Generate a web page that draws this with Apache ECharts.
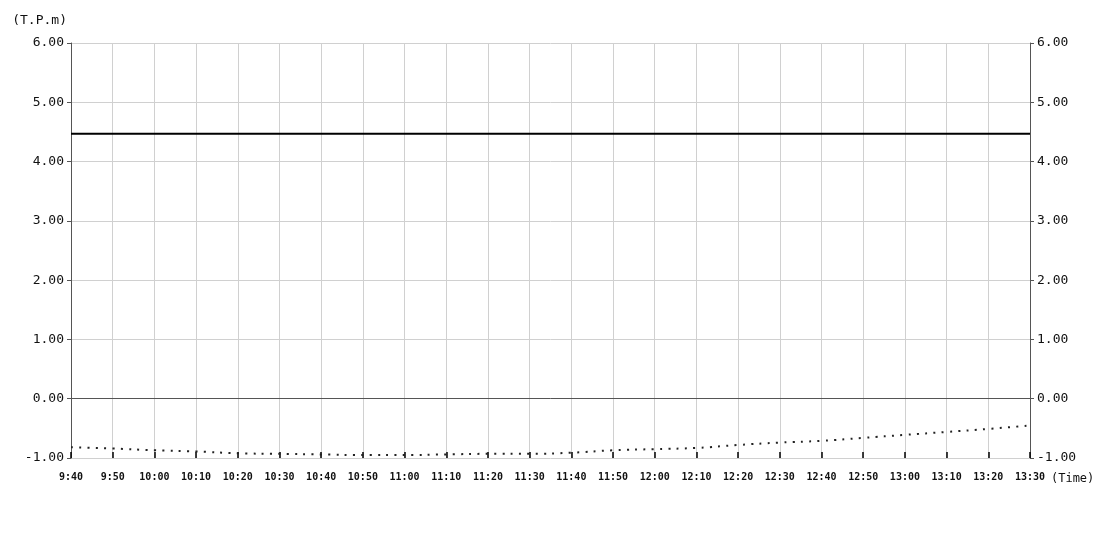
<!DOCTYPE html>
<html>
<head>
<meta charset="utf-8">
<title>T.P.m</title>
<script src="https://cdn.jsdelivr.net/npm/echarts@6/dist/echarts.min.js"></script>
<style>
    html, body { margin: 0; padding: 0; background: #fff; }
    #chart { width: 1100px; height: 550px; }
</style>
</head>
<body>
<div id="chart"></div>
<script>
// time labels, every 10 minutes
var times = ['9:40', '9:50', '10:00', '10:10', '10:20', '10:30', '10:40', '10:50',
    '11:00', '11:10', '11:20', '11:30', '11:40', '11:50', '12:00', '12:10',
    '12:20', '12:30', '12:40', '12:50', '13:00', '13:10', '13:20', '13:30'];

// solid line (constant level)
var levelValues = [4.47, 4.47, 4.47, 4.47, 4.47, 4.47, 4.47, 4.47,
    4.47, 4.47, 4.47, 4.47, 4.47, 4.47, 4.47, 4.47,
    4.47, 4.47, 4.47, 4.47, 4.47, 4.47, 4.47, 4.47];

// dotted line
var dotValues = [-0.82, -0.84, -0.87, -0.89, -0.92, -0.93, -0.94, -0.95,
    -0.95, -0.94, -0.93, -0.93, -0.91, -0.87, -0.85, -0.83,
    -0.78, -0.74, -0.71, -0.66, -0.61, -0.56, -0.51, -0.45];

var font = 'DejaVu Sans Mono';

var myChart = echarts.init(document.getElementById('chart'));

function yAxisOpt(pos) {
    return {
        type: 'value',
        position: pos,
        min: -1,
        max: 6,
        interval: 1,
        axisLine: { show: true, lineStyle: { color: '#555', width: 1 } },
        axisTick: { show: true, length: 4, lineStyle: { color: '#555' } },
        axisLabel: {
            margin: 7,
            color: '#111',
            fontFamily: font,
            fontSize: 13,
            formatter: function (v) { return v.toFixed(2); }
        },
        splitLine: { show: pos == 'left', lineStyle: { color: '#d0d0d0' } }
    };
}

var left = yAxisOpt('left');
left.name = '(T.P.m)';
left.nameLocation = 'end';
left.nameGap = 16;
left.nameTextStyle = { color: '#111', fontFamily: font, fontSize: 13, align: 'right', padding: [0, 4, 0, 0] };

option = {
    animation: false,
    grid: { left: 71, right: 70, top: 43, bottom: 92 },
    xAxis: {
        type: 'category',
        data: times,
        boundaryGap: false,
        name: '(Time)',
        nameLocation: 'end',
        nameGap: 4,
        nameTextStyle: { color: '#111', fontFamily: font, fontSize: 12, verticalAlign: 'top', padding: [15, 0, 0, 0] },
        axisLine: { show: false, onZero: false },
        axisTick: { show: true, inside: true, length: 6, alignWithLabel: true, lineStyle: { color: '#000', width: 1.5 } },
        axisLabel: { margin: 14, color: '#111', fontFamily: font, fontSize: 10, fontWeight: 'bold', interval: 0 },
        splitLine: { show: true, lineStyle: { color: '#d0d0d0' } }
    },
    yAxis: [left, yAxisOpt('right')],
    series: [{
        name: 'level',
        type: 'line',
        data: levelValues,
        showSymbol: false,
        lineStyle: { color: '#000', width: 2 },
        markLine: {
            silent: true,
            symbol: 'none',
            label: { show: false },
            lineStyle: { color: '#555', width: 1, type: 'solid' },
            data: [{ yAxis: 0 }]
        }
    }, {
        name: 'dots',
        type: 'line',
        data: dotValues,
        smooth: true,
        showSymbol: false,
        lineStyle: { color: '#222', width: 2, type: [2, 6.3] }
    }]
};
myChart.setOption(option);
</script>
</body>
</html>
